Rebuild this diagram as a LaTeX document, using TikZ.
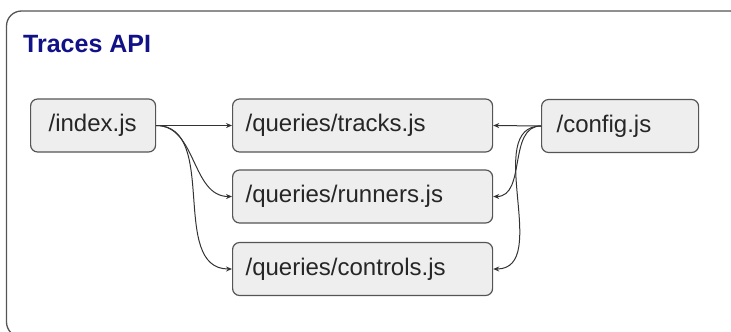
\documentclass[tikz,border=0pt]{standalone}
\usepackage{fontspec}
\setmainfont{Liberation Sans}
\usetikzlibrary{arrows.meta}
\definecolor{frameline}{HTML}{555555}
\definecolor{boxline}{HTML}{555555}
\definecolor{boxfill}{HTML}{EEEEEE}
\definecolor{wire}{HTML}{333333}
\definecolor{titleblue}{RGB}{17,17,136}
\tikzset{
  filebox/.style={draw=boxline, fill=boxfill, rounded corners=7pt, line width=1.2pt,
    minimum height=53pt, inner ysep=0pt, anchor=west, align=left,
    font=\fontsize{24}{28}\selectfont, text=black!85},
  link/.style={draw=wire, line width=1pt, -{Stealth[length=6pt,width=5pt]}},
}
\begin{document}
\begin{tikzpicture}[x=1pt, y=-1pt]
  \useasboundingbox (0,0) rectangle (731,332);
  % outer container
  \draw[frameline, line width=1.3pt, rounded corners=15pt] (6.5,11) rectangle (745,337);
  \node[anchor=base west, inner sep=0pt, text=titleblue,
        font=\bfseries\fontsize{25}{30}\selectfont] (title) at (23,52) {Traces API};

  % modules
  \node[filebox, text width=89pt, inner xsep=18pt] (index) at (30,125.5) {/index.js};
  \node[filebox, text width=234pt, inner xsep=13pt] (tracks) at (232,125.5) {/queries/tracks.js};
  \node[filebox, text width=234pt, inner xsep=13pt] (runners) at (232,196.5) {/queries/runners.js};
  \node[filebox, text width=234pt, inner xsep=13pt] (controls) at (232,269) {/queries/controls.js};
  \node[filebox, text width=127pt, inner xsep=15pt] (config) at (541,126) {/config.js};

  % imports from the entry point
  \draw[link] (index.east) -- (tracks.west);
  \draw[link] (index.east) to[out=0, in=180] (runners.west);
  \draw[link] (index.east) to[out=0, in=180] (controls.west);

  % imports of the configuration
  \draw[link] (config.west) -- (tracks.east);
  \draw[link] (config.west) to[out=180, in=0] (runners.east);
  \draw[link] (config.west) to[out=180, in=0] (controls.east);
\end{tikzpicture}
\end{document}
